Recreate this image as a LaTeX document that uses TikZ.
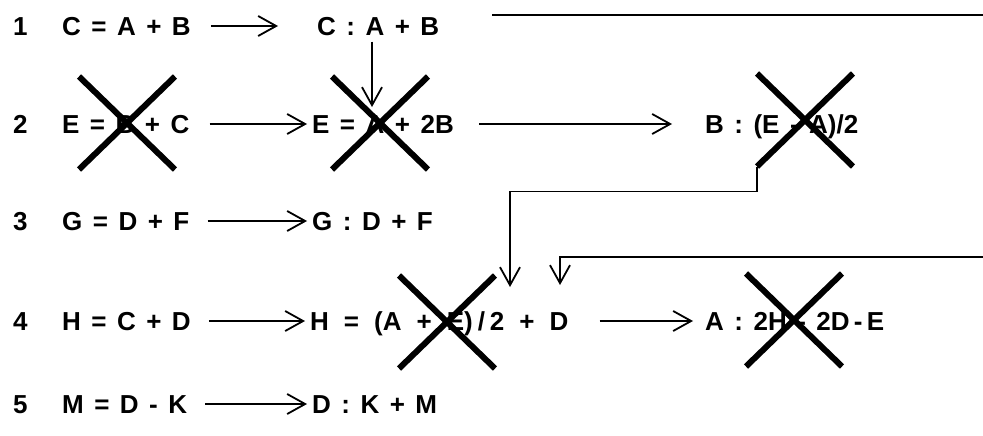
\documentclass[tikz,border=0pt]{standalone}
\usepackage{fontspec}
\setmainfont[WordSpace=1.45]{Liberation Sans}
\usetikzlibrary{arrows.meta,shapes.misc}

\begin{document}
\begin{tikzpicture}[x=1pt,y=-1pt]
	\tikzstyle{term}=[anchor=west,inner sep=0pt,text height=19pt,text depth=0pt,font=\bfseries\fontsize{26}{30}\selectfont]
	\tikzstyle{wire}=[line width=1.8pt]
	\tikzstyle{arr}=[wire,-{Straight Barb[length=18pt,width=20pt,line width=1.8pt]}]
	\tikzstyle{gone}=[cross out,draw,line width=6pt,minimum width=90pt,minimum height=87pt,inner sep=0pt]
	\useasboundingbox (0,0) rectangle (983,436);
	% row numbers
	\node[term](n1) at (13,26) {1};
	\node[term](n2) at (13,124) {2};
	\node[term](n3) at (13,221) {3};
	\node[term](n4) at (13,321) {4};
	\node[term](n5) at (13,404) {5};
	% given equations
	\node[term](l1) at (62,26) {C = A + B};
	\node[term](l2) at (62,124) {E = B + C};
	\node[term](l3) at (62,221) {G = D + F};
	\node[term](l4) at (62,321) {H = C + D};
	\node[term](l5) at (62,404) {M = D - K};
	% rewritten
	\node[term](r1) at (317,26) {C : A + B};
	\node[term](r2) at (312,124) {E = A + 2B};
	\node[term](r3) at (312,221) {G : D + F};
	\node[term](r4) at (310,321) {\spaceskip=15pt H = (A + E)\hspace{5pt}/\hspace{5pt}2 + D};
	\node[term](r5) at (312,404) {D : K + M};
	\node[term](b2) at (705,124) {B : (E - A)/2};
	\node[term](a4) at (705,321) {A : 2H - 2D\,-\,E};
	% crossed out
	\node[gone](x2a) at (127,123) {};
	\node[gone](x2b) at (380,123) {};
	\node[gone](x2c) at (805,120) {};
	\node[gone](x4a) at (447,322) {};
	\node[gone](x4b) at (794,320) {};
	% arrows
	\draw[arr,shorten <=20pt,shorten >=39pt] (l1) to (r1);
	\draw[arr,shorten <=20pt,shorten >=5pt] (l2) to (r2);
	\draw[arr,shorten <=18pt,shorten >=5pt] (l3) to (r3);
	\draw[arr,shorten <=18pt,shorten >=5pt] (l4) to (r4);
	\draw[arr,shorten <=18pt,shorten >=5pt] (l5) to (r5);
	\draw[arr,shorten <=25pt,shorten >=33pt] (r2) to (b2);
	\draw[arr,shorten <=31pt,shorten >=12pt] (r4) to (a4);
	\coordinate (tipA) at (372,107);
	\draw[arr,shorten <=6pt] (r1.south -| tipA) to (tipA);
	\coordinate (topL) at (492,15);
	\coordinate (topR) at (983,15);
	\draw[wire] (topL) to (topR);
	\coordinate (dropB) at (510,287);
	\draw[arr] (x2c.south west) -- ++(0,25) -| (dropB);
	\coordinate (sideR) at (983,257);
	\coordinate (dropD) at (560,285);
	\draw[arr] (sideR) -| (dropD);
\end{tikzpicture}
\end{document}
